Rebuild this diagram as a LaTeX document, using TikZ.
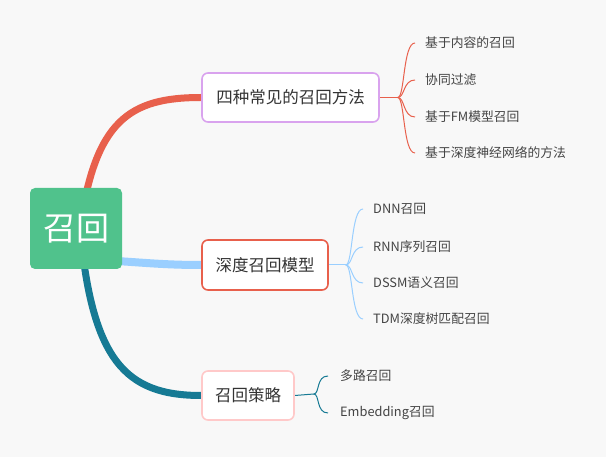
\documentclass[tikz,border=0pt]{standalone}
\usepackage{fontspec}
\setmainfont{Noto Sans CJK SC}
\usetikzlibrary{calc}
\definecolor{bgc}{HTML}{F8F8F8}
\definecolor{rootc}{HTML}{50C28C}
\definecolor{redc}{HTML}{E8604C}
\definecolor{bluec}{HTML}{9ACFFF}
\definecolor{tealc}{HTML}{167A94}
\definecolor{purc}{HTML}{D9A3EE}
\definecolor{pinkc}{HTML}{FFC9C9}
\definecolor{txtc}{HTML}{333333}
\definecolor{leaftxt}{HTML}{444444}
\pgfdeclarelayer{bg}
\pgfdeclarelayer{conn}
\pgfsetlayers{bg,conn,main}
\tikzset{
  rootbox/.style={fill=rootc, rounded corners=5pt, minimum width=92pt, minimum height=81pt, inner sep=0pt, text=white, font=\fontsize{33}{36}\selectfont},
  topicbox/.style={fill=white, draw=#1, line width=1.6pt, rounded corners=6pt, inner sep=0pt, text=txtc, font=\fontsize{16.5}{19}\selectfont},
  leaf/.style={anchor=west, inner xsep=#1, inner ysep=0pt, text=leaftxt, font=\fontsize{12.8}{14}\selectfont},
  mainline/.style={line width=#1, line cap=round},
  leafline/.style={draw=#1, line width=1pt},
}
\begin{document}
\begin{tikzpicture}[x=1pt,y=-1pt]
\begin{pgfonlayer}{bg}
\fill[bgc] (0,0) rectangle (606,457);
\end{pgfonlayer}
\useasboundingbox (0,0) rectangle (606,457);

\node[rootbox] (root) at (76,228.5) {召回};
\node[topicbox=purc, minimum width=177pt, minimum height=49pt] (b1) at (290.5,97.5) {四种常见的召回方法};
\node[topicbox=redc, minimum width=126pt, minimum height=50pt] (b2) at (265,265) {深度召回模型};
\node[topicbox=pinkc, minimum width=92pt, minimum height=49pt] (b3) at (248,395.5) {召回策略};

\node[leaf=10pt] (l11) at (415,43) {基于内容的召回};
\node[leaf=10pt] (l12) at (415,80) {协同过滤};
\node[leaf=10pt] (l13) at (415,117) {基于FM模型召回};
\node[leaf=10pt] (l14) at (415,153) {基于深度神经网络的方法};

\node[leaf=10pt] (l21) at (363,209) {DNN召回};
\node[leaf=10pt] (l22) at (363,247) {RNN序列召回};
\node[leaf=10pt] (l23) at (363,283) {DSSM语义召回};
\node[leaf=10pt] (l24) at (363,319) {TDM深度树匹配召回};

\node[leaf=12pt] (l31) at (328,376) {多路召回};
\node[leaf=12pt] (l32) at (328,413) {Embedding召回};

\begin{pgfonlayer}{conn}
\draw[redc, mainline=7pt] ([xshift=4pt]root.center) .. controls (95,120) and (130,97.5) .. (b1.west);
\draw[bluec, mainline=8pt] ([yshift=-30pt]root.center) .. controls (140,262) and (160,265) .. (b2.west);
\draw[tealc, mainline=7pt] ([xshift=4pt]root.center) .. controls (92,360) and (125,395.5) .. (b3.west);

\draw[leafline=redc] (b1.east) -- ++(18,0) coordinate (f1);
\foreach \l in {l11,l12,l13,l14}
  \draw[leafline=redc] (f1) .. controls ($(f1)+(7,0)$) and ($(\l.west)+(-12,0)$) .. (\l.west);

\draw[leafline=bluec] (b2.east) -- ++(17,0) coordinate (f2);
\foreach \l in {l21,l22,l23,l24}
  \draw[leafline=bluec] (f2) .. controls ($(f2)+(7,0)$) and ($(\l.west)+(-12,0)$) .. (\l.west);

\draw[leafline=tealc] (b3.east) -- ++(19,-1.5) coordinate (f3);
\foreach \l in {l31,l32}
  \draw[leafline=tealc] (f3) .. controls ($(f3)+(6,0)$) and ($(\l.west)+(-12,0)$) .. (\l.west);
\end{pgfonlayer}
\end{tikzpicture}
\end{document}
